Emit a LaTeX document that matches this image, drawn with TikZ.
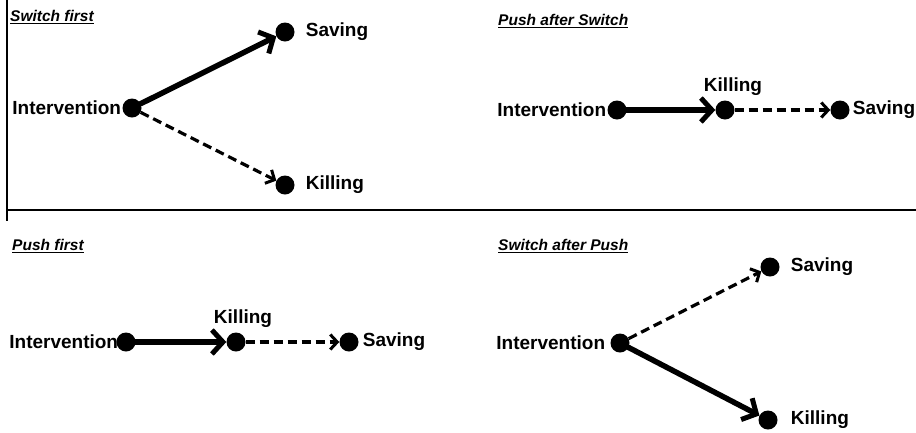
\documentclass[tikz,border=0pt]{standalone}
\usepackage{fontspec}
\setmainfont{Liberation Sans}
\usetikzlibrary{positioning,arrows.meta}
\begin{document}
\begin{tikzpicture}[x=1pt,y=-1pt]
				\tikzset{d/.style={circle, fill=black, inner sep=0pt, minimum size=19pt},
					l/.style={inner sep=0pt, font=\fontsize{19}{22}\selectfont\bfseries},
					ttl/.style={inner sep=0pt, anchor=west, font=\fontsize{15.5}{18}\selectfont\bfseries\itshape},
					p/.style={line width=5.5pt, line cap=round, -{Straight Barb[length=11pt,width=24pt,line width=5pt]}},
					s/.style={line width=3.2pt, dash pattern=on 9pt off 5pt, -{Straight Barb[length=7pt,width=15pt,line width=3pt]}}};
				\useasboundingbox (0,0) rectangle (916,432);
				\draw[line width=1.8pt] (7,0) -- (7,221);
				\draw[line width=1.8pt] (7,210) -- (916,210);

				% switch first
				\node[ttl] (t1) at (10,17) {\underline{Switch first}};
				\node[d] (a1) at (132,108) {};
				\node[d] (b1) at (285,32) {};
				\node[d] (c1) at (285,185) {};
				\node[l, left=1pt of a1] {Intervention};
				\node[l, right=11pt of b1] {Saving};
				\node[l, right=11pt of c1] {Killing};
				\draw[p] (a1) to (b1);
				\draw[s] (a1) to (c1);

				% push after switch
				\node[ttl] (t2) at (498,21) {\underline{Push after Switch}};
				\node[d] (a2) at (617,110) {};
				\node[d] (b2) at (725,110) {};
				\node[d] (c2) at (840,110) {};
				\node[l, left=1pt of a2] {Intervention};
				\node[l, above=5pt of b2, xshift=8pt] {Killing};
				\node[l, right=3pt of c2] {Saving};
				\draw[p] (a2) to (b2);
				\draw[s] (b2) to (c2);

				% push first
				\node[ttl] (t3) at (12,246) {\underline{Push first}};
				\node[d] (a3) at (126,342) {};
				\node[d] (b3) at (236,342) {};
				\node[d] (c3) at (349,342) {};
				\node[l, left=-2pt of a3] {Intervention};
				\node[l, above=5pt of b3, xshift=7pt] {Killing};
				\node[l, right=4pt of c3] {Saving};
				\draw[p] (a3) to (b3);
				\draw[s] (b3) to (c3);

				% switch after push
				\node[ttl] (t4) at (498,246) {\underline{Switch after Push}};
				\node[d] (a4) at (620,343) {};
				\node[d] (b4) at (770,267) {};
				\node[d] (c4) at (768,420) {};
				\node[l, left=5pt of a4] {Intervention};
				\node[l, right=11pt of b4] {Saving};
				\node[l, right=13pt of c4] {Killing};
				\draw[s] (a4) to (b4);
				\draw[p] (a4) to (c4);
			\end{tikzpicture}
\end{document}
